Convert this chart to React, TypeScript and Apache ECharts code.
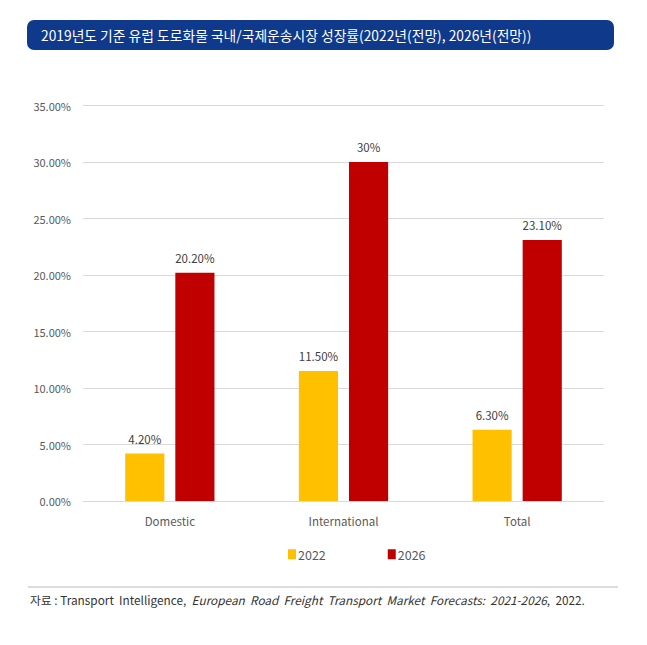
import React, { useEffect, useRef } from "react";
import * as echarts from "echarts";

const categories = ["Domestic", "International", "Total"];
const seriesNames = ["2022", "2026"];
const values2022 = [4.2, 11.5, 6.3];
const values2026 = [20.2, 30, 23.1];
const labels2022 = ["4.20%", "11.50%", "6.30%"];
const labels2026 = ["20.20%", "30%", "23.10%"];
const yTicks = { min: 0, max: 35, interval: 5 };
const titleText = "2019년도 기준 유럽 도로화물 국내/국제운송시장 성장률(2022년(전망), 2026년(전망))";
const sourcePrefix = "자료 : Transport  Intelligence,  ";
const sourceItalic = "European  Road  Freight  Transport  Market  Forecasts:  2021-2026";
const sourceSuffix = ",  2022.";

const FONT = "'Noto Sans CJK KR', 'Noto Sans', sans-serif";

export default function App() {
  const ref = useRef<HTMLDivElement>(null);
  useEffect(() => {
    if (!ref.current) return;
    const chart = echarts.init(ref.current, null, { renderer: "svg" });
    chart.setOption({
      animation: false,
      backgroundColor: "#ffffff",
      textStyle: { fontFamily: FONT },
      grid: { left: 83, right: 43, top: 105.5, bottom: 144, containLabel: false },
      legend: {
        data: seriesNames,
        left: 283,
        top: 543,
        itemWidth: 8,
        itemHeight: 10,
        itemGap: 62,
        icon: "rect",
        textStyle: { color: "#595959", fontSize: 12.5, fontFamily: FONT, padding: [0, 0, 0, -3] },
      },
      xAxis: {
        type: "category",
        data: categories,
        axisTick: { show: false },
        axisLine: { lineStyle: { color: "#D9D9D9", width: 1 } },
        axisLabel: { color: "#595959", fontSize: 11.5, margin: 14, fontFamily: FONT },
      },
      yAxis: {
        type: "value",
        min: yTicks.min,
        max: yTicks.max,
        interval: yTicks.interval,
        axisLine: { show: false },
        axisTick: { show: false },
        splitLine: { lineStyle: { color: "#D9D9D9", width: 1 } },
        axisLabel: {
          color: "#595959",
          fontSize: 11,
          margin: 12,
          fontFamily: FONT,
          formatter: (v: number) => v.toFixed(2) + "%",
        },
      },
      series: [
        {
          name: seriesNames[0],
          type: "bar",
          data: values2022,
          itemStyle: { color: "#FFC000" },
          barGap: "28%",
          barCategoryGap: "48.6%",
          label: {
            show: true,
            position: "top",
            distance: 9,
            color: "#404040",
            fontSize: 11.5,
            fontFamily: FONT,
            formatter: (p: any) => labels2022[p.dataIndex],
          },
        },
        {
          name: seriesNames[1],
          type: "bar",
          data: values2026,
          itemStyle: { color: "#C00000" },
          barGap: "28%",
          barCategoryGap: "48.6%",
          label: {
            show: true,
            position: "top",
            distance: 9,
            color: "#404040",
            fontSize: 11.5,
            fontFamily: FONT,
            formatter: (p: any) => labels2026[p.dataIndex],
          },
        },
      ],
      graphic: [
        {
          type: "rect",
          shape: { x: 27, y: 20, width: 587, height: 30, r: 7 },
          style: { fill: "#0F3A8C" },
        },
        {
          type: "text",
          x: 41,
          y: 35,
          style: {
            text: titleText,
            fill: "#ffffff",
            fontSize: 13.8,
            fontFamily: FONT,
            verticalAlign: "middle",
          },
        },
        {
          type: "line",
          shape: { x1: 28, y1: 587, x2: 618, y2: 587 },
          style: { stroke: "#D0D0D0", lineWidth: 1.5 },
        },
        {
          type: "text",
          x: 30,
          y: 599,
          style: {
            text: "{a|" + sourcePrefix + "}{b|" + sourceItalic + "}{a|" + sourceSuffix + "}",
            verticalAlign: "middle",
            rich: {
              a: { fill: "#333333", fontSize: 11.8, fontFamily: FONT },
              b: { fill: "#333333", fontSize: 11.8, fontFamily: FONT, fontStyle: "italic" },
            },
          },
        },
      ],
    });
    return () => chart.dispose();
  }, []);
  return (
    <div
      ref={ref}
      style={{ position: "fixed", left: 0, top: 0, width: 647, height: 645 }}
    />
  );
}
